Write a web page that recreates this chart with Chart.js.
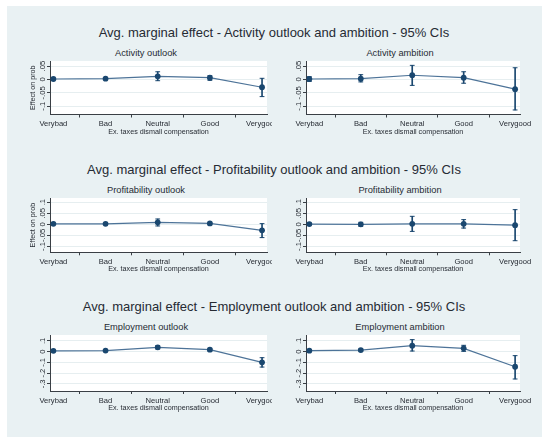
<!DOCTYPE html>
<html><head><meta charset="utf-8">
<script src="https://cdn.jsdelivr.net/npm/chart.js@4.4.1/dist/chart.umd.min.js"></script>
<style>
html,body{margin:0;padding:0;background:#fff;}
body{width:550px;height:443px;position:relative;overflow:hidden;font-family:"Liberation Sans",Arial,sans-serif;color:#262b33;}
#panel{position:absolute;left:7px;top:6px;width:535px;height:431px;background:#e9f1f3;}
.t{position:absolute;white-space:nowrap;transform:translate(-50%,-50%);line-height:1;}
.main{font-size:13px;}
.sub{font-size:9.3px;}
canvas{position:absolute;}
</style></head><body>
<div id="panel"></div>
<div id="titles"></div>
<canvas id="c0"></canvas><canvas id="c1"></canvas>
<canvas id="c2"></canvas><canvas id="c3"></canvas>
<canvas id="c4"></canvas><canvas id="c5"></canvas>
<script>
// ---------- data ----------
const categories = ['Verybad','Bad','Neutral','Good','Verygood'];
const xAxisTitle = 'Ex. taxes dismall compensation';
const yAxisTitle = 'Effect on prob';

const rowTitles = [
  'Avg. marginal effect - Activity outlook and ambition - 95% CIs',
  'Avg. marginal effect - Profitability outlook and ambition - 95% CIs',
  'Avg. marginal effect - Employment outlook and ambition - 95% CIs'
];
const panelTitles = ['Activity outlook','Activity ambition','Profitability outlook','Profitability ambition','Employment outlook','Employment ambition'];

const activityOutlookEst = [0.002, 0.003, 0.012, 0.007, -0.029];
const activityOutlookLo  = [-0.001, 0.000, -0.0045, -0.003, -0.064];
const activityOutlookHi  = [0.005, 0.006, 0.029, 0.014, 0.0045];

const activityAmbitionEst = [0.002, 0.003, 0.016, 0.007, -0.036];
const activityAmbitionLo  = [-0.007, -0.009, -0.022, -0.014, -0.114];
const activityAmbitionHi  = [0.0105, 0.018, 0.053, 0.029, 0.044];

const profitOutlookEst = [0.002, 0.002, 0.009, 0.004, -0.027];
const profitOutlookLo  = [-0.001, -0.001, -0.0075, -0.002, -0.060];
const profitOutlookHi  = [0.005, 0.005, 0.024, 0.009, 0.003];

const profitAmbitionEst = [0.001, 0.000, 0.002, 0.002, -0.004];
const profitAmbitionLo  = [-0.004, -0.009, -0.032, -0.017, -0.074];
const profitAmbitionHi  = [0.006, 0.009, 0.036, 0.021, 0.066];

const employOutlookEst = [0.008, 0.010, 0.040, 0.019, -0.099];
const employOutlookLo  = [0.001, 0.003, 0.025, 0.006, -0.143];
const employOutlookHi  = [0.015, 0.017, 0.056, 0.031, -0.056];

const employAmbitionEst = [0.009, 0.015, 0.056, 0.031, -0.140];
const employAmbitionLo  = [0.001, 0.005, 0.006, 0.003, -0.254];
const employAmbitionHi  = [0.017, 0.025, 0.112, 0.059, -0.037];

const activityTicks = [-0.1, -0.05, 0, 0.05];
const profitTicks   = [-0.1, -0.05, 0, 0.05, 0.1];
const employTicks   = [-0.3, -0.2, -0.1, 0, 0.1];

// ---------- style ----------
const FONT = '"Liberation Sans", Arial, sans-serif';
const TEXT = '#262b33';
const NAVY = '#1a476f';
const LINE = '#4d7398';
const AXIS = '#3a3f45';
const GRID = '#e6eef0';

function fmt(v){ return String(Math.round(v*1000)/1000).replace(/^(-?)0\./,'$1.'); }

const plotBg = {
  id:'plotBg',
  beforeDraw(chart){
    const a = chart.chartArea, ctx = chart.ctx;
    ctx.save(); ctx.fillStyle = '#ffffff';
    ctx.fillRect(a.left, a.top, a.right - a.left, a.bottom - a.top);
    ctx.restore();
  }
};
const rotY = {
  id:'rotY',
  afterDraw(chart){
    const s = chart.scales.y, ctx = chart.ctx;
    ctx.save();
    ctx.font = '7.6px ' + FONT;
    ctx.fillStyle = TEXT; ctx.textAlign = 'center'; ctx.textBaseline = 'middle';
    s.ticks.forEach(t => {
      const y = s.getPixelForValue(t.value);
      ctx.save(); ctx.translate(s.right - 7.5, y); ctx.rotate(-Math.PI/2);
      ctx.fillText(fmt(t.value), 0, 0); ctx.restore();
    });
    ctx.restore();
  }
};

// ---------- layout ----------
const rows = [
  {top:61, bottom:114.5, yMin:-0.131, yMax:0.0693, ticks:activityTicks, titleY:32, subY:54},
  {top:198, bottom:252.3, yMin:-0.1263, yMax:0.1186, ticks:profitTicks, titleY:169, subY:191},
  {top:335, bottom:391, yMin:-0.3656, yMax:0.155, ticks:employTicks, titleY:306, subY:328}
];
const cols = [
  {left:50, right:267, canvasLeft:20, canvasRight:272, subX:146},
  {left:306, right:520, canvasLeft:276, canvasRight:542, subX:400}
];
const series = [
  [activityOutlookEst, activityOutlookLo, activityOutlookHi],
  [activityAmbitionEst, activityAmbitionLo, activityAmbitionHi],
  [profitOutlookEst, profitOutlookLo, profitOutlookHi],
  [profitAmbitionEst, profitAmbitionLo, profitAmbitionHi],
  [employOutlookEst, employOutlookLo, employOutlookHi],
  [employAmbitionEst, employAmbitionLo, employAmbitionHi]
];
const showYTitle = [true, false, true, false, false, false];
const X_MIN = 0.935, X_MAX = 5.095;
const PAD_TOP = 5, X_AXIS_H = 24;

const titles = document.getElementById('titles');
rows.forEach((r, ri) => {
  const d = document.createElement('div');
  d.className = 't main'; d.textContent = rowTitles[ri];
  d.style.left = '274px'; d.style.top = r.titleY + 'px';
  titles.appendChild(d);
  cols.forEach((c, ci) => {
    const s = document.createElement('div');
    s.className = 't sub'; s.textContent = panelTitles[ri*2+ci];
    s.style.left = c.subX + 'px'; s.style.top = r.subY + 'px';
    titles.appendChild(s);
  });
});

rows.forEach((r, ri) => {
  cols.forEach((c, ci) => {
    const k = ri*2 + ci;
    const [est, lo, hi] = series[k];
    const cv = document.getElementById('c' + k);
    const yAxisW = c.left - c.canvasLeft;
    const W = c.canvasRight - c.canvasLeft;
    const H = Math.round((r.bottom - r.top) + PAD_TOP + X_AXIS_H);
    const xAxisH = H - PAD_TOP - (r.bottom - r.top);
    cv.width = W; cv.height = H;
    cv.style.left = c.canvasLeft + 'px'; cv.style.top = (r.top - PAD_TOP) + 'px';
    cv.style.width = W + 'px'; cv.style.height = H + 'px';
    new Chart(cv, {
      type:'line',
      data:{datasets:[
        {type:'line', data: categories.map((n,i)=>({x:i+1, y:est[i]})),
         borderColor:LINE, borderWidth:1.2, tension:0,
         pointRadius:2.9, pointHoverRadius:2.9, pointBackgroundColor:NAVY, pointBorderColor:NAVY, pointBorderWidth:0, order:0},
        {type:'bar', data: categories.map((n,i)=>({x:i+1, y:[lo[i], hi[i]]})),
         backgroundColor:NAVY, borderWidth:0, barThickness:1, order:2},
        {type:'line', data: categories.map((n,i)=>({x:i+1, y:lo[i]})).concat(categories.map((n,i)=>({x:i+1, y:hi[i]}))),
         showLine:false, pointStyle:'line', pointRadius:2.4, pointHoverRadius:2.4, borderColor:NAVY, borderWidth:1, order:1}
      ]},
      options:{
        responsive:false, animation:false, devicePixelRatio: window.devicePixelRatio || 1,
        layout:{padding:{top:PAD_TOP, right:c.canvasRight - c.right, left:0, bottom:0}},
        plugins:{legend:{display:false}, tooltip:{enabled:false}, title:{display:false}},
        events:[],
        scales:{
          x:{type:'linear', min:X_MIN, max:X_MAX, offset:false,
             afterBuildTicks: s => { s.ticks = categories.map((n,i)=>({value:i+1})); },
             afterFit: s => { s.height = xAxisH; s.paddingLeft = 0; s.paddingRight = 0; },
             ticks:{callback: v => categories[Math.round(v)-1] || '', font:{size:7.6, family:FONT}, color:TEXT,
                    padding:2, maxRotation:0, minRotation:0, autoSkip:false},
             grid:{drawOnChartArea:false, drawTicks:true, tickLength:3, tickColor:AXIS, tickWidth:1},
             border:{color:AXIS, width:1},
             title:{display:true, text:xAxisTitle, font:{size:7.2, family:FONT}, color:TEXT, padding:{top:0, bottom:2.3}}
          },
          y:{type:'linear', min:r.yMin, max:r.yMax,
             afterBuildTicks: s => { s.ticks = r.ticks.map(v=>({value:v})); },
             afterFit: s => { s.width = yAxisW; s.paddingTop = 0; s.paddingBottom = 0; },
             ticks:{display:false},
             grid:{color:GRID, lineWidth:1, drawTicks:true, tickLength:3, tickColor:AXIS, tickWidth:1},
             border:{color:AXIS, width:1},
             title:{display:showYTitle[k], text:yAxisTitle, font:{size:7.2, family:FONT}, color:TEXT, padding:{top:8.8, bottom:0}}
          }
        }
      },
      plugins:[plotBg, rotY]
    });
  });
});
</script>
</body></html>
